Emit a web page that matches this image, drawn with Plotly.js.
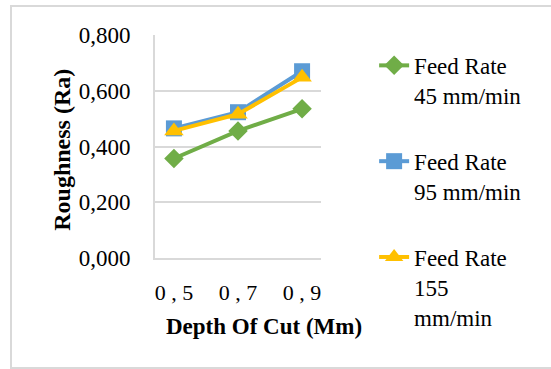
<!DOCTYPE html>
<html>
<head>
<meta charset="utf-8">
<script src="https://cdn.plot.ly/plotly-3.0.1.min.js"></script>
<style>
  html, body { margin: 0; padding: 0; background: #fff; }
  #wrap { position: relative; width: 551px; height: 369px; overflow: hidden; }
  #chart { position: absolute; left: 0; top: 0; width: 551px; height: 369px; }
  #frame { position: absolute; left: 10px; top: 5px; width: 560px; height: 360px;
           border: 2px solid #d9d9d9; pointer-events: none; }
</style>
</head>
<body>
<div id="wrap">
  <div id="chart"></div>
  <div id="frame"></div>
</div>
<script>
// ---- data ----
var categories = ['0 , 5', '0 , 7', '0 , 9'];
var feed45 = [0.357, 0.456, 0.535];
var feed95 = [0.465, 0.523, 0.670];
var feed155 = [0.456, 0.516, 0.648];
var seriesNames = ['Feed Rate<br>45 mm/min', 'Feed Rate<br>95 mm/min', 'Feed Rate<br>155<br>mm/min'];
var yTickVals = [0, 0.2, 0.4, 0.6, 0.8];
var yTickText = ['0,000', '0,200', '0,400', '0,600', '0,800'];
var xTitle = 'Depth Of Cut (Mm)';
var yTitle = 'Roughness (Ra)';

var FONT = '"Liberation Serif", "DejaVu Serif", "Times New Roman", Times, serif';

function tr(y, name, color, symbol, size, grp) {
  return {
    type: 'scatter', mode: 'lines+markers',
    x: categories, y: y, name: name, legendgroup: grp,
    line: { color: color, width: 4 },
    marker: { color: color, symbol: symbol, size: size }
  };
}

var data = [
  tr(feed45, seriesNames[0], '#70AD47', 'diamond', 15, 'a'),
  tr(feed95, seriesNames[1], '#5B9BD5', 'square', 16, 'b'),
  tr(feed155, seriesNames[2], '#FFC000', 'triangle-up', 17, 'c')
];

var layout = {
  width: 551, height: 369,
  margin: { l: 155, r: 230, t: 35, b: 111 },
  paper_bgcolor: '#ffffff', plot_bgcolor: '#ffffff',
  font: { family: FONT, size: 23, color: '#000000' },
  showlegend: true,
  xaxis: {
    type: 'category',
    showgrid: false,
    showline: true, linecolor: '#d9d9d9', linewidth: 2,
    ticks: '', ticklabelstandoff: 14,
    tickfont: { family: FONT, size: 22, color: '#000' },
    zeroline: false, fixedrange: true
  },
  yaxis: {
    range: [0, 0.8],
    tickvals: yTickVals, ticktext: yTickText,
    showgrid: true, gridcolor: '#d9d9d9', gridwidth: 2,
    showline: true, linecolor: '#d9d9d9', linewidth: 2,
    ticks: '', ticklabelstandoff: 18,
    tickfont: { family: FONT, size: 23, color: '#000' },
    zeroline: false, fixedrange: true
  },
  legend: {
    x: 1.32, xanchor: 'left', y: 0.96, yanchor: 'top',
    valign: 'top', tracegroupgap: 33, maxheight: 360,
    font: { family: FONT, size: 23, color: '#000' },
    bgcolor: 'rgba(0,0,0,0)'
  },
  annotations: [
    { text: '<b>' + xTitle + '</b>', xref: 'paper', yref: 'paper',
      x: 0.657, y: -0.309, xanchor: 'center', yanchor: 'middle', showarrow: false,
      font: { family: FONT, size: 23, color: '#000' } },
    { text: '<b>' + yTitle + '</b>', xref: 'paper', yref: 'paper', textangle: -90,
      x: -0.562, y: 0.484, xanchor: 'center', yanchor: 'middle', showarrow: false,
      font: { family: FONT, size: 24, color: '#000' } }
  ]
};

Plotly.newPlot('chart', data, layout, { staticPlot: true, displayModeBar: false });
</script>
</body>
</html>
